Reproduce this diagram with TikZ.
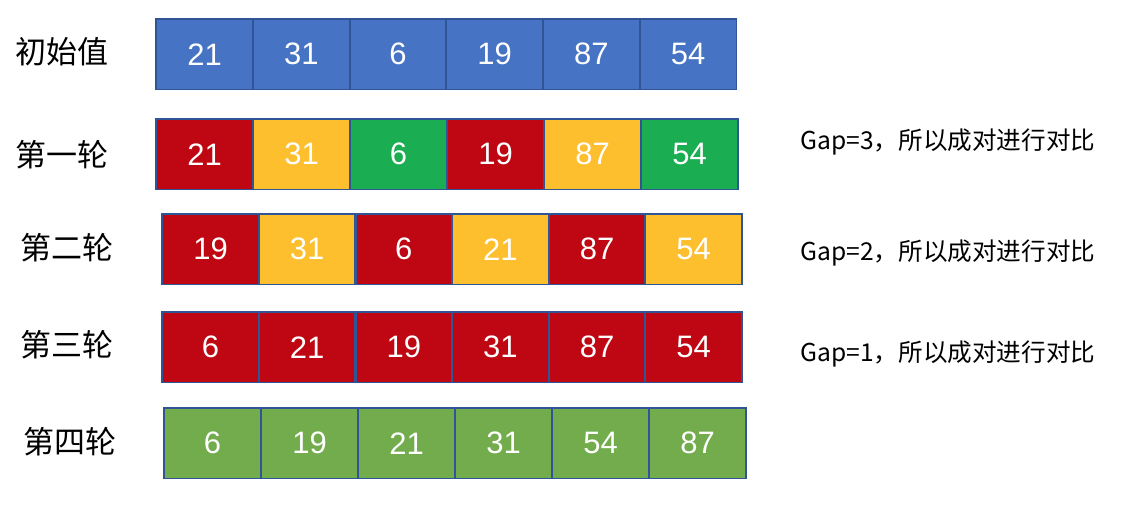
\documentclass[tikz,border=0pt]{standalone}
\usepackage{fontspec}
\setmainfont{Liberation Sans}
\newfontfamily\cjk{Noto Sans CJK SC}

\definecolor{cellborder}{HTML}{2F5597}
\definecolor{cblue}{HTML}{4673C3}
\definecolor{cred}{HTML}{BE0712}
\definecolor{cyellow}{HTML}{FDBF2D}
\definecolor{cgreen}{HTML}{1AAD52}
\definecolor{clgreen}{HTML}{72AC4C}

\begin{document}
\begin{tikzpicture}[
        x=1pt, y=-1pt,
        cell/.style={anchor=north west,
            minimum width=96.8pt, minimum height=70pt, inner sep=0pt,
            text=white, font=\fontsize{31}{31}\selectfont},
        frame/.style={draw=cellborder, line width=1.5pt},
        rowlabel/.style={font=\cjk\fontsize{31}{31}\selectfont},
        note/.style={anchor=west, font=\cjk\fontsize{24.6}{24.6}\selectfont}
    ]

        \useasboundingbox (0,0) rectangle (1128,508);

        % Initial values
        \node[rowlabel] (lab0) at (62,52) {初始值};
        \foreach \v/\c [count=\i] in {21/cblue,31/cblue,6/cblue,19/cblue,87/cblue,54/cblue}
            \node[cell, fill=\c] (r0c\i) at ({156+(\i-1)*96.7},19) {\v};

        % Round 1
        \node[rowlabel] (lab1) at (62,155) {第一轮};
        \foreach \v/\c [count=\i] in {21/cred,31/cyellow,6/cgreen,19/cred,87/cyellow,54/cgreen}
            \node[cell, fill=\c] (r1c\i) at ({156+(\i-1)*97},119) {\v};
        \node[note] (gap3) at (797,142) {Gap=3，所以成对进行对比};

        % Round 2
        \node[rowlabel] (lab2) at (67,248) {第二轮};
        \foreach \v/\c [count=\i] in {19/cred,31/cyellow,6/cred,21/cyellow,87/cred,54/cyellow}
            \node[cell, fill=\c] (r2c\i) at ({162+(\i-1)*96.6},214) {\v};
        \node[note] (gap2) at (797,253) {Gap=2，所以成对进行对比};

        % Round 3
        \node[rowlabel] (lab3) at (67,345) {第三轮};
        \foreach \v/\c [count=\i] in {6/cred,21/cred,19/cred,31/cred,87/cred,54/cred}
            \node[cell, fill=\c] (r3c\i) at ({162+(\i-1)*96.6},312) {\v};
        \node[note] (gap1) at (797,354) {Gap=1，所以成对进行对比};

        % Round 4
        \node[rowlabel] (lab4) at (70,442) {第四轮};
        \foreach \v/\c [count=\i] in {6/clgreen,19/clgreen,21/clgreen,31/clgreen,54/clgreen,87/clgreen}
            \node[cell, fill=\c] (r4c\i) at ({164+(\i-1)*97},408) {\v};

        % Cell borders on top
        \foreach \r in {0,...,4}
            \foreach \i in {1,...,6}
                \draw[frame] (r\r c\i.north west) rectangle (r\r c\i.south east);

    \end{tikzpicture}
\end{document}
